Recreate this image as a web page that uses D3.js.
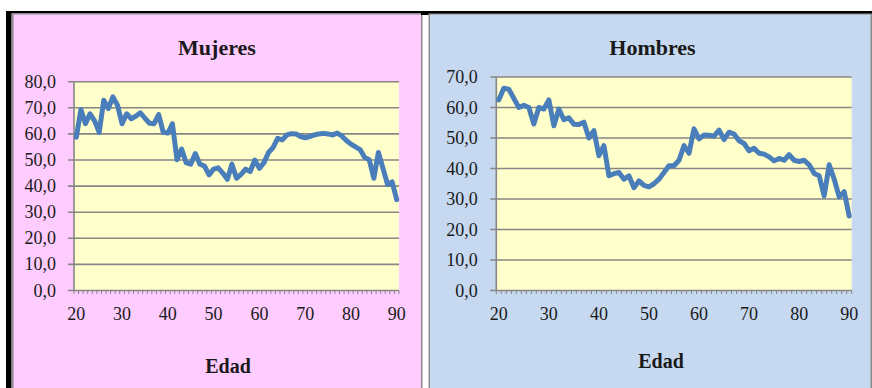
<!DOCTYPE html>
<html>
<head>
<meta charset="utf-8">
<script src="https://cdn.jsdelivr.net/npm/d3@7"></script>
<style>
  html, body { margin: 0; padding: 0; background: #ffffff; }
  svg { display: block; }
  text { font-family: "Liberation Serif", "DejaVu Serif", serif; fill: #1a1a1a; }
</style>
</head>
<body>
<svg id="chart" width="872" height="388"></svg>
<script>
// Ages on the category axis (one point per year of age)
const ages = d3.range(20, 91);
const xTickLabels = [20, 30, 40, 50, 60, 70, 80, 90];

// Percentages by age, women
const mujeres = [
  58.7, 69.3, 63.9, 67.7, 65.0, 60.6, 72.9, 69.7, 74.2, 71.0,
  63.9, 67.7, 65.8, 66.8, 68.1, 66.0, 64.1, 63.9, 67.4, 60.6,
  60.3, 63.9, 50.1, 54.2, 49.0, 48.4, 52.5, 48.4, 47.7, 44.3,
  46.5, 47.0, 45.0, 42.6, 48.4, 43.0, 44.5, 46.5, 45.6, 50.0,
  46.8, 49.0, 52.9, 54.8, 58.3, 57.7, 59.6, 60.1, 60.0, 59.0,
  58.5, 59.0, 59.6, 60.0, 60.2, 60.0, 59.6, 60.3, 59.2, 57.5,
  56.1, 55.0, 54.0, 51.0, 50.1, 43.0, 52.9, 46.8, 40.6, 41.6,
  34.8
];

// Percentages by age, men
const hombres = [
  62.5, 66.3, 66.0, 63.0, 60.0, 60.7, 60.0, 54.6, 60.0, 59.5,
  62.5, 54.0, 59.5, 56.0, 56.6, 54.5, 54.4, 55.2, 50.0, 52.4,
  44.2, 47.5, 37.6, 38.3, 38.7, 36.5, 37.6, 33.7, 35.9, 34.5,
  34.0, 35.0, 36.5, 38.7, 40.9, 40.9, 42.7, 47.5, 45.0, 53.0,
  49.7, 51.0, 50.9, 50.6, 52.6, 49.5, 51.9, 51.3, 49.1, 48.2,
  45.8, 46.6, 45.0, 44.7, 43.8, 42.5, 43.3, 42.7, 44.5, 42.7,
  42.3, 42.7, 41.2, 38.4, 37.6, 31.0, 41.2, 36.5, 30.7, 32.4,
  24.4
];

const mujeresYTicks = [0, 10, 20, 30, 40, 50, 60, 70, 80];
const hombresYTicks = [0, 10, 20, 30, 40, 50, 60, 70];

const titles = ["Mujeres", "Hombres"];
const xAxisTitle = "Edad";

const fmt = v => d3.format(".1f")(v).replace(".", ",");

const svg = d3.select("#chart");

// Outer frame: black top rule and left rule
svg.append("rect").attr("x", 6).attr("y", 11).attr("width", 866).attr("height", 2.5).attr("fill", "#000");
svg.append("rect").attr("x", 6).attr("y", 11).attr("width", 5.5).attr("height", 377).attr("fill", "#000");

function drawPanel(opt) {
  // Panel background with thin grey border
  svg.append("rect")
    .attr("x", opt.px).attr("y", 13.75)
    .attr("width", opt.pw).attr("height", 390)
    .attr("fill", opt.bg)
    .attr("stroke", "#8a8a8a").attr("stroke-width", 1.5);

  const x = d3.scaleLinear().domain([19.5, 90.5]).range([opt.left, opt.right]);
  const y = d3.scaleLinear().domain([0, opt.yMax]).range([opt.bottom, opt.top]);

  const g = svg.append("g");

  // Plot area
  g.append("rect")
    .attr("x", opt.left).attr("y", opt.top)
    .attr("width", opt.right - opt.left).attr("height", opt.bottom - opt.top)
    .attr("fill", "#ffffcc");

  // Horizontal gridlines with outer tick marks
  g.selectAll("line.grid").data(opt.yTicks).join("line")
    .attr("class", "grid")
    .attr("x1", opt.left - 6).attr("x2", opt.right)
    .attr("y1", d => y(d)).attr("y2", d => y(d))
    .attr("stroke", "#868686").attr("stroke-width", 1.6);

  // Vertical axis line
  g.append("line")
    .attr("x1", opt.left).attr("x2", opt.left)
    .attr("y1", opt.top).attr("y2", opt.bottom)
    .attr("stroke", "#868686").attr("stroke-width", 1.6);

  // Y tick labels
  g.selectAll("text.ytick").data(opt.yTicks).join("text")
    .attr("class", "ytick")
    .attr("x", opt.left - opt.labelGap)
    .attr("y", d => y(d) + 6)
    .attr("text-anchor", "end")
    .attr("font-size", 18)
    .text(fmt);

  // Category tick marks between ages
  const bounds = d3.range(19.5, 91, 1);
  g.selectAll("line.xtick").data(bounds).join("line")
    .attr("class", "xtick")
    .attr("x1", d => x(d)).attr("x2", d => x(d))
    .attr("y1", opt.bottom).attr("y2", opt.bottom + 3.5)
    .attr("stroke", "#868686").attr("stroke-width", 1);

  // X tick labels
  g.selectAll("text.xlab").data(xTickLabels).join("text")
    .attr("class", "xlab")
    .attr("x", d => x(d))
    .attr("y", opt.bottom + 29)
    .attr("text-anchor", "middle")
    .attr("font-size", 18)
    .text(d => d);

  // Data line
  const line = d3.line()
    .x((d, i) => x(ages[i]))
    .y(d => y(d));
  g.append("path")
    .datum(opt.values)
    .attr("d", line)
    .attr("fill", "none")
    .attr("stroke", "#4a7ebb")
    .attr("stroke-width", 5)
    .attr("stroke-linejoin", "round")
    .attr("stroke-linecap", "round");

  // Chart title
  g.append("text")
    .attr("x", opt.titleX).attr("y", 54.5)
    .attr("text-anchor", "middle")
    .attr("font-size", 22).attr("font-weight", "bold")
    .text(opt.title);

  // Axis title
  g.append("text")
    .attr("x", opt.axisTitleX).attr("y", opt.axisTitleY)
    .attr("text-anchor", "middle")
    .attr("font-size", 20).attr("font-weight", "bold")
    .text(xAxisTitle);
}

drawPanel({
  px: 12.75, pw: 409, bg: "#ffccff",
  left: 74, right: 399, top: 81.7, bottom: 290.5,
  yMax: 80, yTicks: mujeresYTicks, values: mujeres,
  labelGap: 18, title: titles[0], titleX: 217,
  axisTitleX: 228, axisTitleY: 372.5
});

// Black cap over the gap between the two panels
svg.append("rect").attr("x", 421).attr("y", 11).attr("width", 8).attr("height", 4).attr("fill", "#000");

drawPanel({
  px: 429.25, pw: 442, bg: "#c6d9f1",
  left: 496.3, right: 851.7, top: 77, bottom: 290.5,
  yMax: 70, yTicks: hombresYTicks, values: hombres,
  labelGap: 18.5, title: titles[1], titleX: 652.5,
  axisTitleX: 661, axisTitleY: 368
});

// Redraw top rule over the right panel border
svg.append("rect").attr("x", 429).attr("y", 11).attr("width", 443).attr("height", 2.5).attr("fill", "#000");
</script>
</body>
</html>
